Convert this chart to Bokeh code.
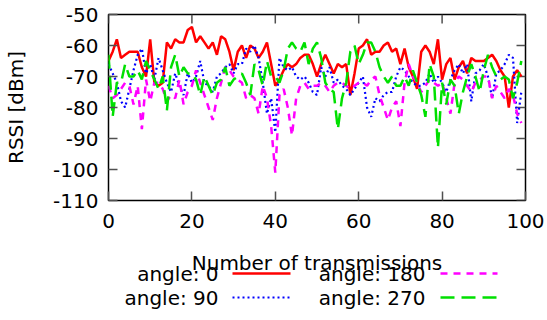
from bokeh.plotting import figure
from bokeh.models import Range1d, FixedTicker
from bokeh.layouts import column
from bokeh.core.properties import value
from bokeh.embed import file_html
from bokeh.resources import INLINE

# ---- data ----
transmissions = list(range(100))

angle_0 = [-65, -62, -58, -64, -63, -62, -62, -62, -67, -70,
           -58, -72, -73, -72, -59, -61, -58, -59, -59, -55,
           -54, -59, -57, -59, -61, -59, -63, -57, -58, -62,
           -68, -62, -60, -64, -60, -61, -64, -62, -59, -66,
           -73, -71, -68, -66, -67, -66, -64, -63, -63, -66,
           -70, -66, -63, -66, -69, -66, -67, -66, -76, -69,
           -61, -60, -58, -63, -62, -62, -60, -59, -62, -61,
           -66, -61, -67, -70, -74, -62, -60, -62, -66, -58,
           -71, -66, -64, -71, -67, -65, -69, -64, -65, -65,
           -65, -64, -63, -65, -68, -70, -80, -70, -68, -70]

angle_90 = [-66, -69, -72, -78, -80, -74, -68, -63, -61, -69,
            -66, -71, -64, -68, -72, -75, -69, -73, -76, -69,
            -72, -70, -65, -72, -73, -75, -70, -69, -67, -66,
            -69, -66, -66, -61, -62, -60, -64, -72, -82, -77,
            -88, -64, -67, -68, -67, -70, -71, -70, -72, -75,
            -76, -67, -70, -67, -72, -71, -73, -74, -76, -74,
            -72, -70, -80, -83, -77, -78, -76, -75, -75, -70,
            -67, -68, -70, -72, -73, -73, -72, -69, -72, -70,
            -72, -75, -71, -68, -66, -69, -66, -78, -69, -68,
            -66, -70, -77, -69, -68, -66, -63, -64, -85, -75]

angle_180 = [-73, -77, -76, -74, -72, -73, -79, -73, -87, -71,
             -78, -72, -72, -74, -78, -76, -77, -71, -79, -75,
             -73, -68, -72, -76, -80, -84, -77, -72, -67, -68,
             -70, -71, -72, -77, -76, -77, -82, -73, -77, -86,
             -101, -76, -74, -80, -89, -77, -73, -72, -74, -73,
             -73, -72, -73, -75, -73, -72, -72, -73, -74, -73,
             -72, -72, -73, -71, -70, -76, -80, -84, -80, -78,
             -86, -72, -66, -70, -72, -75, -73, -71, -72, -73,
             -72, -77, -82, -72, -70, -71, -73, -75, -72, -71,
             -70, -70, -77, -73, -75, -77, -74, -76, -82, -85]

angle_270 = [-63, -83, -72, -72, -66, -70, -70, -68, -71, -65,
             -68, -71, -74, -70, -81, -67, -63, -70, -67, -69,
             -69, -71, -76, -70, -73, -76, -72, -71, -67, -73,
             -71, -70, -69, -72, -76, -66, -68, -73, -65, -70,
             -70, -72, -68, -61, -59, -61, -62, -59, -66, -61,
             -59, -64, -72, -74, -75, -87, -77, -72, -62, -60,
             -66, -63, -59, -59, -62, -67, -70, -72, -70, -73,
             -73, -70, -73, -68, -72, -76, -83, -66, -70, -93,
             -72, -79, -71, -73, -82, -75, -70, -66, -70, -75,
             -68, -63, -67, -70, -71, -70, -71, -77, -72, -65]

series_labels = ["angle: 0", "angle: 90", "angle: 180", "angle: 270"]
x_ticks = [0, 20, 40, 60, 80, 100]
y_ticks = [-110, -100, -90, -80, -70, -60, -50]

FONT = "DejaVu Sans"
FS = "20px"

colors = ["#ff0000", "#0000ff", "#ff00ff", "#00e000"]
dashes = ["solid", "2 3", "7 6", "14 7"]
widths = [2.5, 2.2, 2.5, 2.5]

X0, X1 = 0, 100
Y0, Y1 = -110, -50
FRAME_L, FRAME_R = 108, 525
FRAME_T, FRAME_B = 14, 200

# ---- main plot ----
p = figure(width=547, height=245, x_range=Range1d(X0, X1), y_range=Range1d(Y0, Y1),
           output_backend="svg", toolbar_location=None,
           min_border_left=FRAME_L, min_border_right=547 - FRAME_R,
           min_border_top=FRAME_T, min_border_bottom=245 - FRAME_B)
p.xgrid.visible = False
p.ygrid.visible = False
p.outline_line_color = "black"
p.outline_line_width = 1.5
p.background_fill_color = "white"
p.border_fill_color = "white"

p.xaxis.ticker = FixedTicker(ticks=x_ticks)
p.yaxis.ticker = FixedTicker(ticks=y_ticks)
p.yaxis.major_label_overrides = {t: "-%d" % abs(t) for t in y_ticks}
p.yaxis.axis_label = "RSSI [dBm]"
p.yaxis.axis_label_standoff = 22
for ax in (p.xaxis[0], p.yaxis[0]):
    ax.axis_line_color = None
    ax.major_tick_in = 9
    ax.major_tick_out = 0
    ax.major_tick_line_color = "#505050"
    ax.major_tick_line_width = 1.5
    ax.minor_tick_line_color = None
    ax.major_label_text_font = FONT
    ax.major_label_text_font_size = FS
    ax.major_label_text_color = "black"
    ax.axis_label_text_font = FONT
    ax.axis_label_text_font_size = FS
    ax.axis_label_text_font_style = "normal"
    ax.axis_label_text_color = "black"
p.xaxis.major_label_standoff = 13
p.yaxis.major_label_standoff = 10

# mirrored inward ticks on top and right edges (length 9 px, converted to data units)
tick_dy = 9 * (Y1 - Y0) / (FRAME_B - FRAME_T)
tick_dx = 9 * (X1 - X0) / (FRAME_R - FRAME_L)
p.segment(x0=x_ticks, y0=[Y1] * len(x_ticks), x1=x_ticks, y1=[Y1 - tick_dy] * len(x_ticks),
          line_color="#505050", line_width=1.5)
p.segment(x0=[X1] * len(y_ticks), y0=y_ticks, x1=[X1 - tick_dx] * len(y_ticks), y1=y_ticks,
          line_color="#505050", line_width=1.5)

all_series = [angle_0, angle_90, angle_180, angle_270]
for ys, c, d, w in zip(all_series, colors, dashes, widths):
    p.line(transmissions, ys, line_color=c, line_width=w, line_dash=d)

# ---- legend / x label strip (coordinates = canvas pixels) ----
leg = figure(width=547, height=75, x_range=Range1d(FRAME_L, FRAME_R), y_range=Range1d(320, 245),
             output_backend="svg", toolbar_location=None,
             min_border_left=FRAME_L, min_border_right=547 - FRAME_R,
             min_border_top=0, min_border_bottom=0,
             x_axis_type=None, y_axis_type=None)
leg.grid.visible = False
leg.outline_line_color = None
leg.background_fill_color = "white"
leg.border_fill_color = "white"

leg.text(x=[(FRAME_L + FRAME_R) / 2], y=[262], text=["Number of transmissions"], text_align="center",
         text_baseline="middle", text_font=value(FONT), text_font_size=value(FS),
         text_color="black")

col_text_x = [218, 218, 425, 425]
col_line_x = [(232, 290), (232, 290), (440, 497), (440, 497)]
row_y = [273, 297, 273, 297]
for lab, tx, (lx0, lx1), ry, c, d, w in zip(series_labels, col_text_x, col_line_x, row_y,
                                             colors, dashes, widths):
    leg.text(x=[tx], y=[ry], text=[lab], text_align="right", text_baseline="middle",
             text_font=value(FONT), text_font_size=value(FS), text_color="black")
    leg.line([lx0, lx1], [ry, ry], line_color=c, line_width=w, line_dash=d)

layout = column(p, leg, spacing=0)
open("out.html", "w").write(file_html(layout, INLINE))
